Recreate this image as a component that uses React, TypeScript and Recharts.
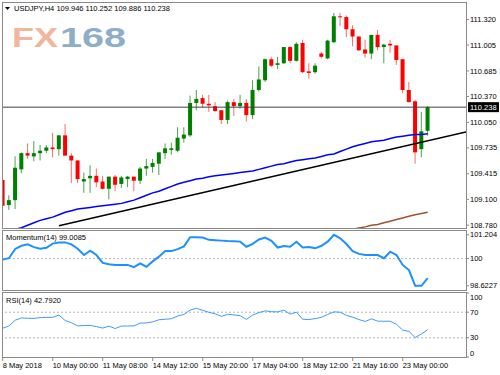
import { ComposedChart, Bar, Line, XAxis, YAxis, ReferenceLine } from 'recharts';

// H4 candles, one entry per bar (bar 0 = left edge of the window)
const opens = [
  109.34, 109.03, 109.09, 109.47, 109.67, 109.63, 109.67, 109.70, 109.74, 109.72,
  109.89, 109.64, 109.58, 109.32, 109.36, 109.39, 109.32, 109.23, 109.38, 109.29,
  109.35, 109.38, 109.33, 109.48, 109.50, 109.54, 109.67, 109.71, 109.70, 109.85,
  109.89, 110.29, 110.35, 110.28, 110.25, 110.20, 110.08, 110.30, 110.25, 110.29,
  110.14, 110.45, 110.57, 110.83, 110.76, 110.78, 110.98, 110.81, 111.03, 110.68,
  110.67, 110.90, 110.84, 111.04, 111.36, 111.35, 111.20, 111.11, 110.95, 110.90,
  111.13, 110.98, 111.02, 111.00, 110.83, 110.45, 110.31, 109.72, 109.946,
];
const highs = [
  109.35, 109.15, 109.63, 109.68, 109.79, 109.82, 109.77, 109.77, 109.92, 109.89,
  110.03, 109.67, 109.58, 109.43, 109.52, 109.48, 109.39, 109.38, 109.40, 109.39,
  109.39, 109.38, 109.50, 109.60, 109.60, 109.68, 109.79, 109.80, 109.99, 109.99,
  110.38, 110.45, 110.39, 110.39, 110.30, 110.20, 110.32, 110.34, 110.39, 110.34,
  110.57, 110.74, 110.84, 110.86, 110.86, 110.98, 110.99, 111.04, 111.07, 110.78,
  110.78, 110.92, 111.07, 111.40, 111.40, 111.37, 111.25, 111.11, 111.07, 111.13,
  111.19, 111.02, 111.07, 111.00, 110.83, 110.55, 110.33, 110.18, 110.252,
];
const lows = [
  108.82, 108.97, 108.98, 109.42, 109.60, 109.57, 109.58, 109.67, 109.62, 109.64,
  109.64, 109.30, 109.30, 109.18, 109.18, 109.25, 109.22, 109.10, 109.20, 109.24,
  109.25, 109.20, 109.29, 109.39, 109.43, 109.40, 109.60, 109.65, 109.68, 109.80,
  109.87, 110.20, 110.23, 110.18, 110.18, 110.03, 110.03, 110.13, 110.22, 110.06,
  110.09, 110.43, 110.55, 110.73, 110.71, 110.77, 110.78, 110.80, 110.66, 110.59,
  110.65, 110.84, 110.83, 111.03, 111.24, 111.10, 110.99, 110.93, 110.85, 110.83,
  110.94, 110.78, 110.91, 110.76, 110.41, 110.30, 109.54, 109.62, 109.886,
];
const closes = [
  109.02, 109.09, 109.49, 109.67, 109.64, 109.67, 109.70, 109.74, 109.72, 109.89,
  109.64, 109.58, 109.35, 109.35, 109.39, 109.31, 109.23, 109.38, 109.28, 109.37,
  109.38, 109.33, 109.48, 109.51, 109.55, 109.68, 109.73, 109.73, 109.86, 109.90,
  110.29, 110.34, 110.28, 110.26, 110.19, 110.08, 110.30, 110.25, 110.29, 110.14,
  110.45, 110.58, 110.83, 110.75, 110.78, 110.98, 110.81, 111.02, 110.67, 110.66,
  110.75, 110.86, 111.06, 111.36, 111.35, 111.20, 111.11, 110.94, 110.90, 111.13,
  110.98, 111.01, 111.00, 110.82, 110.45, 110.30, 109.68, 109.94, 110.238,
];

// moving averages (blue fast, brown slow)
const maBlue = [
  108.68, 108.70, 108.73, 108.75, 108.78, 108.81, 108.84, 108.86, 108.88, 108.91,
  108.94, 108.96, 108.98, 108.99, 109.00, 109.01, 109.02, 109.03, 109.04, 109.05,
  109.07, 109.09, 109.12, 109.15, 109.18, 109.20, 109.23, 109.26, 109.29, 109.31,
  109.33, 109.35, 109.36, 109.38, 109.39, 109.40, 109.41, 109.42, 109.43, 109.44,
  109.45, 109.47, 109.49, 109.51, 109.53, 109.54, 109.56, 109.58, 109.59, 109.60,
  109.61, 109.63, 109.65, 109.66, 109.69, 109.72, 109.75, 109.77, 109.79, 109.81,
  109.82, 109.83, 109.85, 109.87, 109.88, 109.89, 109.90, 109.90, 109.91,
];
const maBrown = [
  null, null, null, null, null, null, null, null, null, null,
  null, null, null, null, null, null, null, null, null, null,
  null, null, null, null, null, null, null, null, null, null,
  null, null, null, null, null, null, null, null, null, null,
  null, null, null, null, null, null, null, null, null, null,
  null, null, null, null, 108.69, 108.71, 108.73, 108.745, 108.76, 108.78,
  108.79, 108.81, 108.83, 108.85, 108.87, 108.89, 108.91, 108.925, 108.94,
];

const momentum = [
  99.96, 100.02, 100.49, 100.65, 100.72, 100.58, 100.50, 100.55, 100.76, 100.82,
  100.82, 100.72, 100.50, 100.18, 100.40, 100.18, 99.78, 99.71, 99.68, 99.68,
  99.68, 99.57, 99.76, 99.59, 99.86, 100.10, 100.38, 100.38, 100.48, 100.62,
  101.08, 101.08, 101.07, 100.95, 100.93, 100.91, 100.89, 100.88, 100.86, 100.60,
  100.75, 100.97, 101.06, 100.90, 100.56, 100.64, 100.60, 100.85, 100.56, 100.59,
  100.52, 100.65, 100.86, 101.204, 101.03, 100.74, 100.38, 100.24, 100.18, 100.18,
  100.18, 100.02, 100.35, 100.18, 99.68, 99.42, 98.63, 98.6227, 99.0085,
];
const rsiValues = [
  45.0, 48.5, 57.5, 61.0, 60.5, 60.3, 61.5, 61.9, 62.0, 65.5,
  57.0, 53.5, 48.6, 49.2, 49.3, 47.5, 45.2, 48.2, 44.5, 48.3,
  48.4, 48.6, 52.9, 53.3, 54.8, 58.2, 59.0, 59.8, 64.0, 66.5,
  73.4, 76.0, 73.0, 69.8, 67.5, 63.5, 66.8, 65.8, 64.5, 58.8,
  65.5, 69.5, 72.0, 70.8, 70.5, 73.2, 67.0, 70.0, 59.0, 58.5,
  60.0, 62.0, 66.5, 70.5, 70.0, 65.0, 62.2, 58.5, 55.5, 59.6,
  56.0, 55.9, 55.9, 51.2, 42.0, 40.0, 30.5, 36.0, 42.792,
];

const priceTicks = [111.32, 111.005, 110.685, 110.37, 110.05, 109.735, 109.415, 109.1, 108.78];
const momTicks = [101.204, 100, 98.6227];
const rsiTicks = [100, 70, 30, 0];
const timeTickBars = [0, 8, 16, 24, 32, 40, 48, 56, 64];
const timeTickLabels = [
  '8 May 2018', '10 May 00:00', '11 May 08:00', '14 May 12:00', '15 May 20:00',
  '17 May 04:00', '18 May 12:00', '21 May 16:00', '23 May 00:00',
];
// hand-drawn trend line anchors (bar, price)
const trendAnchors = [
  { i: 9, price: 108.774 },
  { i: 74.29, price: 109.936 },
];

const rows = opens.map((o, i) => ({
  i,
  o,
  h: highs[i],
  l: lows[i],
  c: closes[i],
  range: [lows[i], highs[i]],
  ma: maBlue[i],
  ma2: maBrown[i],
  mom: momentum[i],
  rsi: rsiValues[i],
}));

const lastClose = closes[closes.length - 1];
const X_DOMAIN: [number, number] = [-0.112, 74.29];
const FONT = '"Liberation Sans", Arial, sans-serif';
const FRAME = '#8a8a8a';

function Candle(props: any) {
  const { x, y, width, height, payload } = props;
  if (x == null || !payload) return null;
  const { o, h, l, c } = payload;
  const full = Math.abs(height);
  const top = Math.min(y, y + height);
  const k = h > l ? full / (h - l) : 0;
  const cx = x + width / 2;
  const up = c >= o;
  const bodyTop = top + (h - Math.max(o, c)) * k;
  const bodyH = Math.max(1, Math.abs(o - c) * k);
  return (
    <g>
      <line x1={cx} x2={cx} y1={top} y2={top + full} stroke={up ? '#4f9f4f' : '#ff6a6a'} strokeWidth={1} />
      <rect x={cx - 2} y={bodyTop} width={4} height={bodyH} fill={up ? '#008000' : '#ff0000'} />
    </g>
  );
}

function AxisTick(props: any) {
  const { x, y, payload, fmt, shift } = props;
  const v = payload.value;
  const dy = shift ? shift(v) : 0;
  return (
    <text x={x} y={y + 2.6 + dy} fontSize={7.5} fontFamily={FONT} fill="#000" textAnchor="start">
      {fmt ? fmt(v) : String(v)}
    </text>
  );
}

function TimeTick(props: any) {
  const { x, y, payload } = props;
  const label = timeTickLabels[timeTickBars.indexOf(payload.value)];
  return (
    <text x={x} y={y + 5} fontSize={7.5} fontFamily={FONT} fill="#000" textAnchor="start">
      {label}
    </text>
  );
}

function PriceTag(props: any) {
  const vb = props.viewBox || {};
  const right = (vb.x ?? 0) + (vb.width ?? 0);
  const y = vb.y ?? 0;
  return (
    <g>
      <rect x={right + 1} y={y - 5} width={31} height={10} fill="#000" />
      <text x={right + 3} y={y + 2.6} fontSize={7.5} fontFamily={FONT} fill="#fff">
        {lastClose.toFixed(3)}
      </text>
    </g>
  );
}

export default function App() {
  return (
    <div style={{ position: 'absolute', left: 0, top: 0, width: 500, height: 375, background: '#fff', overflow: 'hidden' }}>
      <div style={{ position: 'absolute', left: 0, top: 0 }}>
        <ComposedChart width={500} height={231} data={rows} margin={{ top: 3, right: 0, bottom: 3, left: 2 }}>
          <XAxis dataKey="i" type="number" domain={X_DOMAIN} allowDataOverflow hide />
          <YAxis
            orientation="right"
            width={33}
            domain={[108.746, 111.524]}
            allowDataOverflow
            ticks={priceTicks}
            interval={0}
            axisLine={false}
            tickSize={2}
            tickMargin={1}
            tickLine={{ stroke: FRAME }}
            tick={<AxisTick fmt={(v: number) => v.toFixed(3)} />}
          />
          <Line dataKey="ma2" stroke="#a0522d" strokeWidth={1.5} dot={false} isAnimationActive={false} />
          <Line dataKey="ma" stroke="#0000ff" strokeWidth={1.5} dot={false} isAnimationActive={false} />
          <ReferenceLine
            segment={trendAnchors.map((a) => ({ x: a.i, y: a.price }))}
            stroke="#000"
            strokeWidth={1.5}
            ifOverflow="hidden"
          />
          <Bar dataKey="range" barSize={4} shape={<Candle />} isAnimationActive={false} />
          <ReferenceLine y={lastClose} stroke="#404040" strokeWidth={1} label={<PriceTag />} />
        </ComposedChart>
      </div>

      <div style={{ position: 'absolute', left: 0, top: 229 }}>
        <ComposedChart width={500} height={62} data={rows} margin={{ top: 2, right: 0, bottom: 1, left: 2 }}>
          <XAxis dataKey="i" type="number" domain={X_DOMAIN} allowDataOverflow hide />
          <YAxis
            orientation="right"
            width={33}
            domain={[98.411, 101.397]}
            allowDataOverflow
            ticks={momTicks}
            interval={0}
            axisLine={false}
            tickSize={2}
            tickMargin={1}
            tickLine={{ stroke: FRAME }}
            tick={<AxisTick />}
          />
          <ReferenceLine y={100} stroke="#b4b4b4" strokeDasharray="2 2" />
          <Line dataKey="mom" stroke="#1e90ff" strokeWidth={2} dot={false} isAnimationActive={false} />
        </ComposedChart>
      </div>

      <div style={{ position: 'absolute', left: 0, top: 290 }}>
        <ComposedChart width={500} height={85} data={rows} margin={{ top: 3, right: 0, bottom: 0, left: 2 }}>
          <XAxis
            dataKey="i"
            type="number"
            domain={X_DOMAIN}
            allowDataOverflow
            ticks={timeTickBars}
            interval={0}
            height={18}
            axisLine={false}
            tickSize={4}
            tickMargin={2}
            tickLine={{ stroke: FRAME }}
            tick={<TimeTick />}
          />
          <YAxis
            orientation="right"
            width={33}
            domain={[0, 100]}
            ticks={rsiTicks}
            interval={0}
            axisLine={false}
            tickSize={2}
            tickMargin={1}
            tickLine={{ stroke: FRAME }}
            tick={<AxisTick shift={(v: number) => (v === 100 ? 4 : v === 0 ? -4 : 0)} />}
          />
          <ReferenceLine y={70} stroke="#b4b4b4" strokeDasharray="2 2" />
          <ReferenceLine y={30} stroke="#b4b4b4" strokeDasharray="2 2" />
          <Line dataKey="rsi" stroke="#3d9bff" strokeWidth={1} dot={false} isAnimationActive={false} />
        </ComposedChart>
      </div>

      <svg width={500} height={375} style={{ position: 'absolute', left: 0, top: 0, pointerEvents: 'none' }}>
        <rect x={2.5} y={2.5} width={464} height={226} fill="none" stroke={FRAME} />
        <rect x={2.5} y={230.5} width={464} height={60} fill="none" stroke={FRAME} />
        <rect x={2.5} y={292.5} width={464} height={65} fill="none" stroke={FRAME} />
        <polygon points="5,7 10,7 7.5,10" fill="#000" />
        <text x={14} y={10.5} fontSize={7.5} fontFamily={FONT} fill="#000">
          USDJPY,H4  109.946 110.252 109.886 110.238
        </text>
        <text x={12} y={47} fontSize={28} fontWeight="bold" fontFamily={FONT} fill="#f3b59c" textLength={46} lengthAdjust="spacingAndGlyphs">
          FX
        </text>
        <text x={60} y={47} fontSize={28} fontWeight="bold" fontFamily={FONT} fill="#8eaec8" textLength={66} lengthAdjust="spacingAndGlyphs">
          168
        </text>
        <text x={6} y={239.5} fontSize={7.5} fontFamily={FONT} fill="#000">Momentum(14) 99.0085</text>
        <text x={6} y={302.5} fontSize={7.5} fontFamily={FONT} fill="#000">RSI(14) 42.7920</text>
      </svg>
    </div>
  );
}
